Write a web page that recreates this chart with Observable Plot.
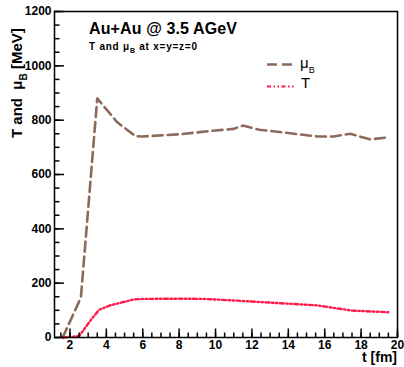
<!DOCTYPE html>
<html><head><meta charset="utf-8">
<script src="https://cdn.jsdelivr.net/npm/d3@7"></script>
<script src="https://cdn.jsdelivr.net/npm/@observablehq/plot@0.6"></script>
<style>
body{margin:0;background:#fff;}
#chart{position:relative;width:404px;height:367px;}
</style>
</head><body><div id="chart"></div>
<script>
const muT = [1.6, 2.6, 3.5, 4.6, 5.6, 6, 8, 10, 11, 11.5, 12.4, 14.7, 15.6, 16.5, 17.4, 18.5, 19.5];
const muV = [0, 147, 880, 792, 741, 740, 748, 762, 768, 780, 765, 747, 740, 740, 750, 729, 737];
const tT = [1.6, 2.5, 3.2, 3.6, 4.2, 5.5, 6, 8, 9.4, 11.6, 13.6, 15.6, 17.5, 19.5];
const tV = [0, 5, 69, 102, 118, 140, 142, 143, 142, 134, 126, 118, 99, 93];
const xMajor = [2, 4, 6, 8, 10, 12, 14, 16, 18, 20];
const xMinor = d3.range(1.5, 20.01, 0.5);
const yMajor = [0, 200, 400, 600, 800, 1000, 1200];
const yMinor = d3.range(0, 1200.1, 50);

const mu = muT.map((t, i) => ({t, v: muV[i]}));
const tm = tT.map((t, i) => ({t, v: tV[i]}));

const brown = "#8c6a59", red = "#ff1a4a";
const tDash = "4,2.5,1.5,2.5,1.5,2.5";
const W = 404, H = 367, mL = 54, mR = 7, mT = 11, mB = 30;
const iw = W - mL - mR, ih = H - mT - mB;
const xDom = [1.15, 20], yDom = [0, 1200];
// tick lengths converted from pixels to data units
const pxX = (xDom[1] - xDom[0]) / iw, pxY = (yDom[1] - yDom[0]) / ih;

const plot = Plot.plot({
  width: W, height: H,
  marginLeft: mL, marginRight: mR, marginTop: mT, marginBottom: mB,
  style: {fontFamily: "'Liberation Sans', Arial, sans-serif", fontSize: "12px", fontWeight: "bold", background: "white", color: "black"},
  x: {domain: xDom},
  y: {domain: yDom},
  marks: [
    Plot.line(mu, {x: "t", y: "v", stroke: brown, strokeWidth: 2.6, strokeDasharray: "10,5"}),
    Plot.line(tm, {x: "t", y: "v", stroke: red, strokeWidth: 2.4, strokeDasharray: tDash}),
    Plot.ruleX(xMinor, {x: d => d, y1: yDom[0], y2: yDom[0] + 4.5 * pxY, stroke: "#000", strokeWidth: 1.5}),
    Plot.ruleX(xMajor, {x: d => d, y1: yDom[0], y2: yDom[0] + 8.5 * pxY, stroke: "#000", strokeWidth: 1.5}),
    Plot.ruleY(yMinor, {y: d => d, x1: xDom[0], x2: xDom[0] + 5.5 * pxX, stroke: "#000", strokeWidth: 1.5}),
    Plot.ruleY(yMajor, {y: d => d, x1: xDom[0], x2: xDom[0] + 10 * pxX, stroke: "#000", strokeWidth: 1.5}),
    Plot.axisX({ticks: xMajor, tickSize: 0, tickPadding: 3, label: null, tickFormat: d => String(d)}),
    Plot.axisY({ticks: yMajor, tickSize: 0, tickPadding: 3, label: null, tickFormat: d => String(d)}),
    Plot.frame({stroke: "black", strokeWidth: 1.5})
  ]
});
document.getElementById("chart").appendChild(plot);

const svg = d3.select(plot);
const font = "'Liberation Sans', Arial, sans-serif";
function txt(x, y, size, weight, anchor) {
  return svg.append("text").attr("x", x).attr("y", y).attr("font-family", font)
    .attr("font-size", size).attr("font-weight", weight).attr("text-anchor", anchor || "start").attr("fill", "black");
}
// titles
txt(89, 34, 16, "bold").attr("textLength", 148).attr("lengthAdjust", "spacing").text("Au+Au @ 3.5 AGeV");
const t2 = txt(89, 50, 10, "bold").attr("textLength", 108).attr("lengthAdjust", "spacing");
t2.append("tspan").text("T and \u03bc");
t2.append("tspan").attr("font-size", 7).attr("dy", 3).text("B");
t2.append("tspan").attr("dy", -3).text(" at x=y=z=0");
// axis titles
txt(397, 362, 14, "bold", "end").text("t [fm]");
const yt = svg.append("text").attr("transform", "translate(22,138) rotate(-90)").attr("text-anchor", "start")
  .attr("font-family", font).attr("font-size", 15).attr("font-weight", "bold").attr("fill", "black");
yt.append("tspan").text("T and  \u03bc");
yt.append("tspan").attr("font-size", 10).attr("dy", 5).text("B");
yt.append("tspan").attr("dy", -5).text(" [MeV]");
// legend
svg.append("line").attr("x1", 267).attr("x2", 295).attr("y1", 64.5).attr("y2", 64.5)
  .attr("stroke", brown).attr("stroke-width", 2.4).attr("stroke-dasharray", "10,5");
svg.append("line").attr("x1", 267).attr("x2", 295).attr("y1", 86.5).attr("y2", 86.5)
  .attr("stroke", red).attr("stroke-width", 2.2).attr("stroke-dasharray", tDash);
const l1 = txt(300, 68, 15, "normal");
l1.append("tspan").text("\u03bc");
l1.append("tspan").attr("font-size", 9).attr("dy", 5).text("B");
txt(301, 88, 15, "normal").text("T");
</script>
</body></html>
